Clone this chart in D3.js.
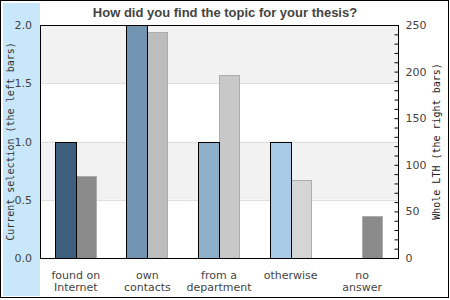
<!DOCTYPE html>
<html lang="en">
<head>
  <meta charset="UTF-8">
  <title>Thesis topic</title>
  <script src="https://d3js.org/d3.v7.min.js"></script>
  <style>
    body { margin: 0; padding: 0; background: #fff; }
    svg { display: block; }
    .tick text { font-family: "DejaVu Sans", sans-serif; font-size: 11px; fill: #444; }
  </style>
</head>
<body>
  <div id="chart"></div>

  <script>
    const categories = ["found on\nInternet", "own\ncontacts", "from a\ndepartment", "otherwise", "no\nanswer"];
    const currentValues = [1, 2, 1, 1, 0];        // left axis
    const lthValues = [88, 243, 196, 84, 45];     // right axis
    const leftTicks = [0, 0.5, 1.0, 1.5, 2.0];
    const rightTicks = d3.range(0, 251, 10);

    const leftColors = ["#3f5f7e", "#7094b1", "#8eafca", "#a8cce8", "#c0dcf2"];
    const rightColors = ["#8a8a8a", "#bdbdbd", "#c8c8c8", "#d5d5d5", "#8a8a8a"];

    const width = 450, height = 300;
    const margin = { top: 25, right: 52, bottom: 42, left: 40 };
    const x0 = margin.left, x1 = width - margin.right;
    const y0 = height - margin.bottom, y1 = margin.top;

    const svg = d3.select('#chart').append('svg')
      .attr('width', width)
      .attr('height', height);

    // outer frame and the blue panel on the left
    svg.append('rect')
      .attr('x', 0.5).attr('y', 0.5)
      .attr('width', 448).attr('height', 297)
      .attr('fill', '#fff').attr('stroke', '#000');
    svg.append('rect')
      .attr('x', 3).attr('y', 3)
      .attr('width', x0 - 3).attr('height', 293)
      .attr('fill', '#c9e7fb');

    const x = d3.scaleBand()
      .domain(categories)
      .range([x0, x1])
      .paddingInner(0.413)
      .paddingOuter(0.2065);
    const xSub = d3.scaleBand().domain([0, 1]).range([0, x.bandwidth()]);

    const yLeft = d3.scaleLinear().domain([0, 2]).range([y0, y1]);
    const yRight = d3.scaleLinear().domain([0, 250]).range([y0, y1]);

    // alternating background bands
    const bands = [[1.5, 2.0], [0.5, 1.0]];
    svg.append('g').selectAll('rect')
      .data(bands)
      .join('rect')
      .attr('x', x0)
      .attr('y', d => yLeft(d[1]))
      .attr('width', x1 - x0)
      .attr('height', d => yLeft(d[0]) - yLeft(d[1]))
      .attr('fill', '#f2f2f2');

    svg.append('g').selectAll('line')
      .data([0.5, 1.0, 1.5])
      .join('line')
      .attr('x1', x0).attr('x2', x1)
      .attr('y1', d => Math.round(yLeft(d)) + 0.5)
      .attr('y2', d => Math.round(yLeft(d)) + 0.5)
      .attr('stroke', '#dedede');

    // right bars first so the left bar outline sits on top
    svg.append('g').selectAll('rect')
      .data(lthValues)
      .join('rect')
      .attr('x', (d, i) => Math.round(x(categories[i]) + xSub(1)) + 0.5)
      .attr('y', d => Math.round(yRight(d)) + 0.5)
      .attr('width', Math.round(xSub.bandwidth()) - 1)
      .attr('height', d => y0 - Math.round(yRight(d)))
      .attr('fill', (d, i) => rightColors[i])
      .attr('stroke', '#adadad');

    svg.append('g').selectAll('rect')
      .data(currentValues)
      .join('rect')
      .attr('x', (d, i) => Math.round(x(categories[i])) + 0.5)
      .attr('y', d => Math.round(yLeft(d)) + 0.5)
      .attr('width', Math.round(xSub.bandwidth()))
      .attr('height', d => y0 - Math.round(yLeft(d)))
      .attr('fill', (d, i) => leftColors[i])
      .attr('stroke', '#000')
      .attr('display', d => d > 0 ? null : 'none');

    // plot frame
    svg.append('rect')
      .attr('x', x0 + 0.5).attr('y', y1 + 0.5)
      .attr('width', x1 - x0).attr('height', y0 - y1)
      .attr('fill', 'none').attr('stroke', '#000');

    // left axis
    svg.append('g')
      .attr('transform', `translate(${x0},0)`)
      .call(d3.axisLeft(yLeft).tickValues(leftTicks).tickFormat(d3.format('.1f')).tickSize(0).tickPadding(8))
      .call(g => g.select('.domain').remove());

    // right axis, ticks pointing inward
    svg.append('g')
      .attr('transform', `translate(${x1 + 0.5},0)`)
      .call(d3.axisRight(yRight).tickValues(rightTicks)
        .tickFormat(d => d % 50 === 0 ? d : '')
        .tickSizeInner(-4).tickSizeOuter(0).tickPadding(7))
      .call(g => g.select('.domain').remove())
      .call(g => g.selectAll('.tick line').attr('stroke', '#000'));

    // category labels
    const labels = svg.append('g').selectAll('text')
      .data(categories)
      .join('text')
      .attr('x', d => x(d) + x.bandwidth() / 2)
      .attr('y', 279)
      .attr('text-anchor', 'middle')
      .style('font-family', '"DejaVu Sans", sans-serif')
      .style('font-size', '11px')
      .attr('fill', '#444');
    labels.selectAll('tspan')
      .data(d => d.split('\n'))
      .join('tspan')
      .attr('x', function() { return d3.select(this.parentNode).attr('x'); })
      .attr('dy', (d, i) => i ? 12 : 0)
      .text(d => d);

    // title
    svg.append('text')
      .attr('x', 225).attr('y', 17)
      .attr('text-anchor', 'middle')
      .style('font-family', '"Liberation Sans", Arial, sans-serif')
      .style('font-weight', 'bold')
      .style('font-size', '13px')
      .attr('fill', '#444')
      .text('How did you find the topic for your thesis?');

    // axis titles
    const midY = (y0 + y1) / 2;
    svg.append('text')
      .attr('transform', `translate(13.5,${midY}) rotate(-90)`)
      .attr('text-anchor', 'middle')
      .style('font-family', '"DejaVu Sans Mono", monospace')
      .style('font-size', '10px')
      .attr('fill', '#333')
      .text('Current selection (the left bars)');
    svg.append('text')
      .attr('transform', `translate(439.5,${midY}) rotate(-90)`)
      .attr('text-anchor', 'middle')
      .style('font-family', '"DejaVu Sans Mono", monospace')
      .style('font-size', '10px')
      .attr('fill', '#222')
      .text('Whole LTH (the right bars)');
  </script>
</body>
</html>
